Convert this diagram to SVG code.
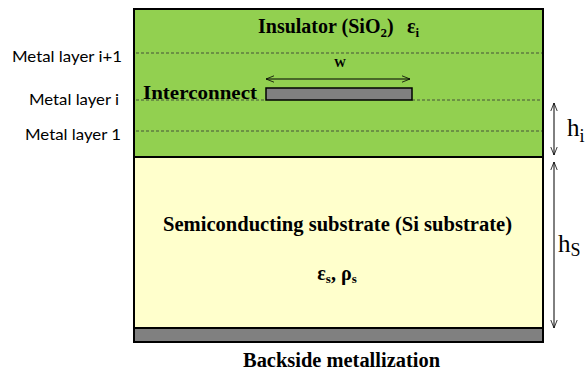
<svg xmlns="http://www.w3.org/2000/svg" width="586" height="374" viewBox="0 0 586 374">
<defs>
<marker id="open" viewBox="0 0 10 10" refX="10" refY="5" markerWidth="8" markerHeight="8" orient="auto-start-reverse" markerUnits="userSpaceOnUse">
<path d="M0,1 L10,5 L0,9" fill="none" stroke="#000" stroke-width="1"/>
</marker>
</defs>
<style>
.dash{stroke:#333;stroke-width:0.8;stroke-dasharray:3,2;fill:none}
.serifb{font-family:"Liberation Serif",serif;font-weight:bold;fill:#000}
.serif{font-family:"Liberation Serif",serif;fill:#000}
.sans{font-family:Lato,"Liberation Sans",sans-serif;font-size:15px;fill:#000}
.arr{stroke:#000;stroke-width:1;fill:none;marker-start:url(#open);marker-end:url(#open)}
</style>
<rect width="586" height="374" fill="#fff"/>
<g id="insulator">
<rect x="134" y="9" width="409" height="148" fill="#92D050" stroke="#000" stroke-width="2"/>
<text class="serifb" x="258" y="33" font-size="20">Insulator (SiO<tspan font-size="13" dy="4">2</tspan><tspan dy="-4">)</tspan></text>
<text class="serifb" x="407" y="33" font-size="20">ε<tspan font-size="13" dy="4">i</tspan></text>
</g>
<g id="layers">
<line class="dash" x1="136" y1="53" x2="542" y2="53"/>
<line class="dash" x1="136" y1="100" x2="266" y2="100"/>
<line class="dash" x1="412" y1="100" x2="542" y2="100"/>
<line class="dash" x1="136" y1="131" x2="542" y2="131"/>
<text class="sans" x="122" y="62" text-anchor="end" textLength="110" lengthAdjust="spacingAndGlyphs">Metal layer i+1</text>
<text class="sans" x="119" y="105" text-anchor="end" textLength="90" lengthAdjust="spacingAndGlyphs">Metal layer i</text>
<text class="sans" x="121" y="140" text-anchor="end" textLength="96" lengthAdjust="spacingAndGlyphs">Metal layer 1</text>
</g>
<g id="interconnect">
<rect x="266" y="88" width="146" height="12" fill="#808080" stroke="#000" stroke-width="1.5"/>
<text class="serifb" x="143" y="99" font-size="19" textLength="114" lengthAdjust="spacingAndGlyphs">Interconnect</text>
</g>
<g id="substrate">
<rect x="134" y="157" width="409" height="171" fill="#FFFFCC" stroke="#000" stroke-width="2"/>
<text class="serifb" x="163" y="231" font-size="20" textLength="349" lengthAdjust="spacingAndGlyphs">Semiconducting substrate (Si substrate)</text>
<text class="serifb" x="337" y="280" font-size="20" text-anchor="middle">ε<tspan font-size="13" dy="3">s</tspan><tspan dy="-3">, ρ</tspan><tspan font-size="13" dy="3">s</tspan></text>
</g>
<g id="backside">
<rect x="134" y="328" width="409" height="14" fill="#808080" stroke="#000" stroke-width="2"/>
<text class="serifb" x="243" y="367" font-size="20" textLength="197" lengthAdjust="spacingAndGlyphs">Backside metallization</text>
</g>
<g id="connectors">
<line class="arr" x1="266" y1="79" x2="410" y2="79"/>
<line class="arr" x1="554" y1="103" x2="554" y2="155"/>
<line class="arr" x1="554" y1="162" x2="554" y2="328"/>
</g>
<g id="labels">
<text class="serifb" x="340" y="67" font-size="12" text-anchor="middle">W</text>
<text class="serif" x="567" y="136" font-size="25">h<tspan font-size="18" dy="6">i</tspan></text>
<text class="serif" x="558" y="252" font-size="25">h<tspan font-size="18" dy="4">S</tspan></text>
</g>
</svg>
